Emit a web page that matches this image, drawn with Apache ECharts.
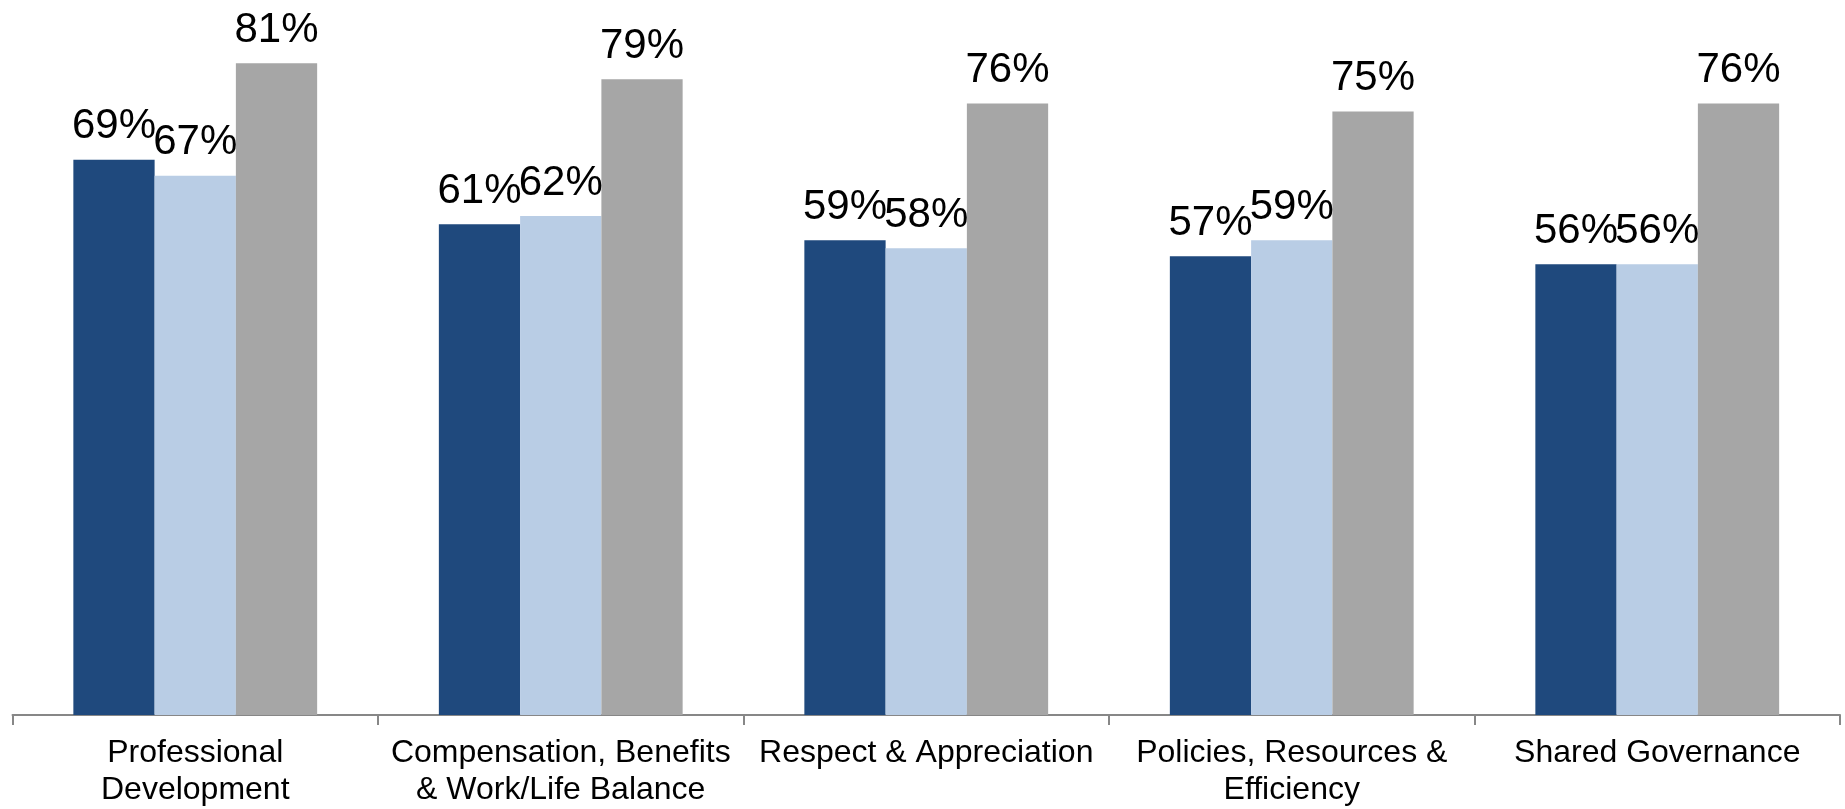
<!DOCTYPE html>
<html>
<head>
<meta charset="utf-8">
<title>Survey Results by Category</title>
<script src="https://cdn.jsdelivr.net/npm/echarts@6/dist/echarts.min.js"></script>
<style>
  html, body { margin: 0; padding: 0; background: #ffffff; }
  #chart { width: 1845px; height: 809px; }
</style>
</head>
<body>
<div id="chart"></div>
<script>
// Category labels (line breaks as shown under the axis)
const categories = [
  'Professional\nDevelopment',
  'Compensation, Benefits\n& Work/Life Balance',
  'Respect & Appreciation',
  'Policies, Resources &\nEfficiency',
  'Shared Governance'
];

// Percent favorable for each group, per category
const seriesA = [69, 61, 59, 57, 56];
const seriesB = [67, 62, 58, 59, 56];
const seriesC = [81, 79, 76, 75, 76];

const colors = ['#1F497D', '#B9CDE5', '#A6A6A6'];
const FONT = '"Liberation Sans", Arial, sans-serif';

function barSeries(name, data, color) {
  return {
    name: name,
    type: 'bar',
    data: data,
    barGap: '0%',
    barCategoryGap: '33.3%',
    itemStyle: { color: color },
    label: {
      show: true,
      position: 'top',
      distance: 12,
      formatter: '{c}%',
      color: '#000000',
      fontFamily: FONT,
      fontSize: 42
    },
    emphasis: { disabled: true },
    animation: false
  };
}

const chart = echarts.init(document.getElementById('chart'), null, { renderer: 'canvas' });
chart.setOption({
  backgroundColor: '#ffffff',
  animation: false,
  grid: { left: 12.5, right: 5, top: 31, bottom: 91, containLabel: false },
  xAxis: {
    type: 'category',
    data: categories,
    axisLine: { show: true, lineStyle: { color: '#878787', width: 2 } },
    axisTick: { show: true, alignWithLabel: false, length: 10, lineStyle: { color: '#878787', width: 2 } },
    axisLabel: {
      interval: 0,
      margin: 20,
      color: '#000000',
      fontFamily: FONT,
      fontSize: 32,
      lineHeight: 37
    },
    splitLine: { show: false }
  },
  yAxis: {
    type: 'value',
    min: 0,
    max: 85,
    show: false,
    splitLine: { show: false }
  },
  series: [
    barSeries('Group A', seriesA, colors[0]),
    barSeries('Group B', seriesB, colors[1]),
    barSeries('Group C', seriesC, colors[2])
  ]
});
</script>
</body>
</html>
